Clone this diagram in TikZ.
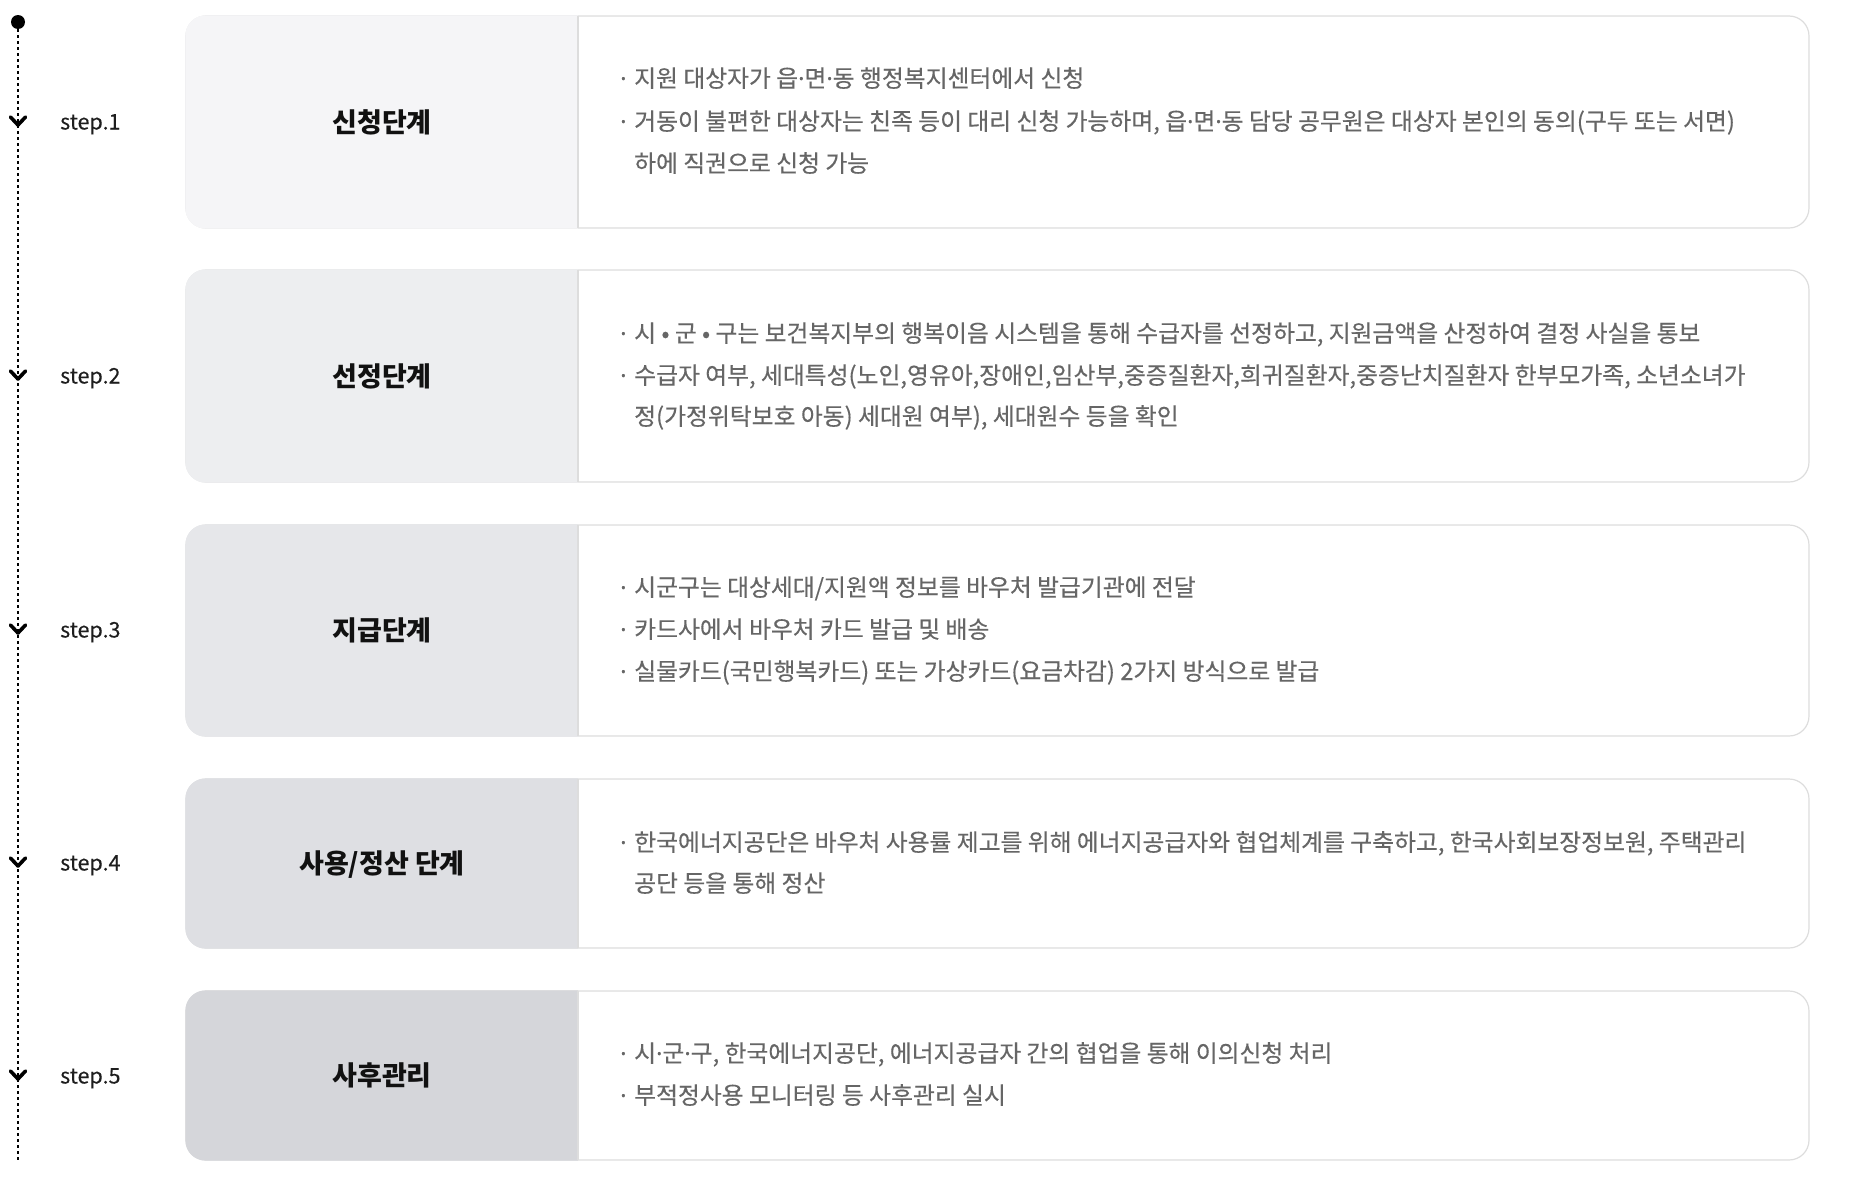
\documentclass[tikz,border=0pt]{standalone}
\usepackage{fontspec}
\setmainfont{Noto Sans CJK KR}
\newfontfamily\bodyf[FakeBold=0.35]{Noto Sans CJK KR}
\newfontfamily\latinf[FakeBold=0.35]{Noto Sans}
\newfontfamily\stepf[FakeBold=0.2]{Noto Sans CJK KR}
\newcommand\md{{\latinf ·}}
\definecolor{cardline}{HTML}{DDDDDD}
\definecolor{bodyc}{HTML}{666666}
\definecolor{titlec}{HTML}{111111}
\definecolor{stepc}{HTML}{1E1E1E}
\definecolor{pa}{HTML}{F5F5F7}
\definecolor{pb}{HTML}{EDEEF0}
\definecolor{pc}{HTML}{E6E7EA}
\definecolor{pd}{HTML}{DEDFE3}
\definecolor{pe}{HTML}{D5D6DA}
\newcommand\bulletline[3]{%
  \node[body] (#1dot) at (620,#2+8) {\md};
  \node[body] (#1) at (634,#2+8) {#3};}
\newcommand\contline[3]{%
  \node[body] (#1) at (634,#2+8) {#3};}
\begin{document}
\begin{tikzpicture}[x=1pt,y=-1pt,
  card/.style={draw=cardline,line width=1.2pt,fill=white,rounded corners=20pt},
  titletext/.style={font=\fontsize{27}{30}\selectfont\bfseries,text=titlec,anchor=base},
  body/.style={font=\fontsize{23.8}{28}\selectfont\bodyf,text=bodyc,anchor=base west,inner sep=0pt},
  steplab/.style={font=\fontsize{21.5}{24}\selectfont\stepf,text=stepc,anchor=base west,inner sep=0pt},
  chev/.style={line width=3.6pt,line cap=round,line join=round},
  timeline/.style={line width=1.1pt,dash pattern=on 3pt off 3pt}]
\useasboundingbox (0,0) rectangle (1858,1178);
% timeline
\node[circle,fill=black,minimum size=14pt,inner sep=0pt] (dot) at (18,22) {};
\coordinate (tlend) at (18,1162);
\draw[timeline] (dot) -- (tlend);
% cards
\foreach \yt/\yb/\col/\ttl/\n/\ys in {16/228/pa/신청단계/1/122,
  270/482/pb/선정단계/2/376,
  525/736/pc/지급단계/3/630,
  779/948/pd/사용{/}정산 단계/4/863,
  991/1160/pe/사후관리/5/1076}{
  \path[card] (186,\yt) rectangle (1809,\yb);
  \begin{scope}
    \clip (184,\yt-2) rectangle (578,\yb+2);
    \fill[\col,rounded corners=20pt] (185.4,\yt-0.6) rectangle (640,\yb+0.6);
  \end{scope}
  \draw[cardline,line width=1.2pt] (578,\yt) -- (578,\yb);
  \node[titletext] (title\n) at (382,{(\yt+\yb)/2+10}) {\ttl};
  \node[steplab] (step\n) at (60,\ys+7.5) {step.\n};
  \draw[chev] (10.5,\ys-5) -- (18,\ys+3) -- (25.5,\ys-5);
}
% body text
\bulletline{a1}{79}{지원 대상자가 읍\md 면\md 동 행정복지센터에서 신청}
\bulletline{a2}{122}{거동이 불편한 대상자는 친족 등이 대리 신청 가능하며, 읍\md 면\md 동 담당 공무원은 대상자 본인의 동의(구두 또는 서면)}
\contline{a3}{164}{하에 직권으로 신청 가능}
\bulletline{b1}{334}{시 • 군 • 구는 보건복지부의 행복이음 시스템을 통해 수급자를 선정하고, 지원금액을 산정하여 결정 사실을 통보}
\bulletline{b2}{376}{수급자 여부, 세대특성(노인,영유아,장애인,임산부,중증질환자,희귀질환자,중증난치질환자 한부모가족, 소년소녀가}
\contline{b3}{417}{정(가정위탁보호 아동) 세대원 여부), 세대원수 등을 확인}
\bulletline{c1}{588}{시군구는 대상세대/지원액 정보를 바우처 발급기관에 전달}
\bulletline{c2}{630}{카드사에서 바우처 카드 발급 및 배송}
\bulletline{c3}{672}{실물카드(국민행복카드) 또는 가상카드(요금차감) 2가지 방식으로 발급}
\bulletline{d1}{843}{한국에너지공단은 바우처 사용률 제고를 위해 에너지공급자와 협업체계를 구축하고, 한국사회보장정보원, 주택관리}
\contline{d2}{884}{공단 등을 통해 정산}
\bulletline{e1}{1054}{시\md 군\md 구, 한국에너지공단, 에너지공급자 간의 협업을 통해 이의신청 처리}
\bulletline{e2}{1096}{부적정사용 모니터링 등 사후관리 실시}
\end{tikzpicture}
\end{document}
